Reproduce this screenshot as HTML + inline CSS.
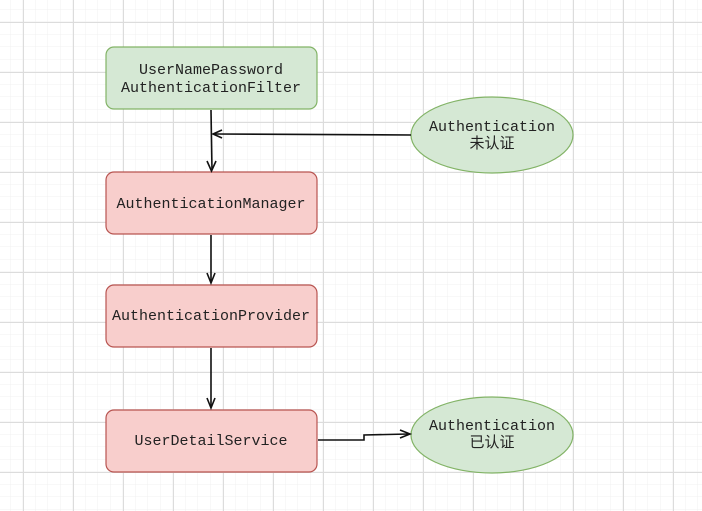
<!DOCTYPE html>
<html><head><meta charset="utf-8"><style>
html,body{margin:0;padding:0;background:#fff}
svg{display:block}
text{font-family:"Liberation Mono","Noto Sans CJK SC",monospace;font-size:15px;fill:#222}
</style></head><body>
<svg width="702" height="511" viewBox="0 0 702 511" xmlns="http://www.w3.org/2000/svg">
<defs>
<pattern id="minor" width="12.5" height="12.5" patternUnits="userSpaceOnUse" x="10.5" y="9.5">
<path d="M12.5 0V12.5M0 12.5H12.5" stroke="#f0f0f0" stroke-width="1" fill="none"/>
</pattern>
<pattern id="major" width="50" height="50" patternUnits="userSpaceOnUse" x="23" y="22">
<path d="M0.5 0V50M0 0.5H50" stroke="#dcdcdc" stroke-width="1" fill="none"/>
</pattern>
</defs>
<rect width="702" height="511" fill="url(#minor)"/>
<rect width="702" height="511" fill="url(#major)"/>

<rect x="106" y="47" width="211" height="62" rx="8" fill="#d5e8d4" stroke="#82b366" stroke-width="1.2"/>
<text x="211" y="74" text-anchor="middle">UserNamePassword</text>
<text x="211" y="92" text-anchor="middle">AuthenticationFilter</text>

<rect x="106" y="172" width="211" height="62" rx="8" fill="#f8cecc" stroke="#b85450" stroke-width="1.2"/>
<text x="211" y="208" text-anchor="middle">AuthenticationManager</text>

<rect x="106" y="285" width="211" height="62" rx="8" fill="#f8cecc" stroke="#b85450" stroke-width="1.2"/>
<text x="211" y="320" text-anchor="middle">AuthenticationProvider</text>

<rect x="106" y="410" width="211" height="62" rx="8" fill="#f8cecc" stroke="#b85450" stroke-width="1.2"/>
<text x="211" y="445" text-anchor="middle">UserDetailService</text>

<ellipse cx="492" cy="135" rx="81" ry="38" fill="#d5e8d4" stroke="#82b366" stroke-width="1.2"/>
<text x="492" y="131" text-anchor="middle">Authentication</text>
<text x="492" y="148" text-anchor="middle">未认证</text>

<ellipse cx="492" cy="435" rx="81" ry="38" fill="#d5e8d4" stroke="#82b366" stroke-width="1.2"/>
<text x="492" y="430" text-anchor="middle">Authentication</text>
<text x="492" y="447" text-anchor="middle">已认证</text>

<g stroke="#111" stroke-width="1.6" fill="none">
<path d="M211 110 L212 170"/>
<path d="M207 161 L211.5 171 L216 161"/>
<path d="M411 135 L214 134"/>
<path d="M222 130 L213 134 L222 138"/>
<path d="M211 235 L211 282"/>
<path d="M207 273 L211 283 L215 273"/>
<path d="M211 348 L211 407"/>
<path d="M207 398 L211 408 L215 398"/>
<path d="M318 440 L364 440 L364 435 L409 434"/>
<path d="M400 430 L410 434 L400 438"/>
</g>
</svg>
</body></html>
